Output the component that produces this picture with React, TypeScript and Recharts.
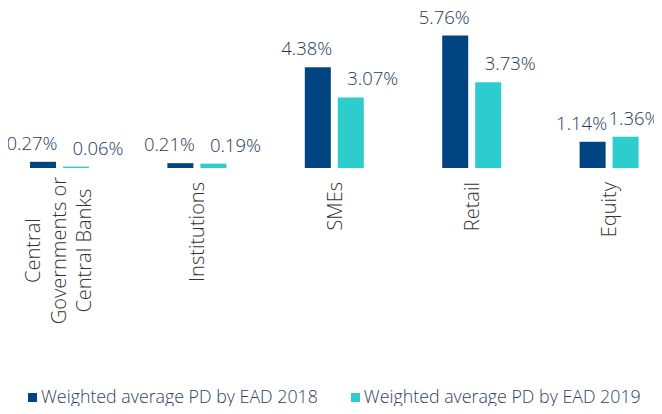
import React from 'react';
import { BarChart, Bar, XAxis, YAxis, Legend, LabelList } from 'recharts';

const categories = ['Central\nGovernments or\nCentral Banks', 'Institutions', 'SMEs', 'Retail', 'Equity'];
const pd2018 = [0.27, 0.21, 4.38, 5.76, 1.14];
const pd2019 = [0.06, 0.19, 3.07, 3.73, 1.36];
const seriesNames = ['Weighted average PD by EAD 2018', 'Weighted average PD by EAD 2019'];

const data = categories.map((name, i) => ({ name, y2018: pd2018[i], y2019: pd2019[i] }));

const NAVY = '#004481';
const CYAN = '#2dcccd';
const FONT = '"Open Sans", Roboto, sans-serif';
const CHART_W = 687;
const SHIFT = -9;

const fmt = (v: number) => `${v.toFixed(2)}%`;

const AxisTick = (props: any) => {
  const { x, y, payload } = props;
  const lines = String(payload.value).split('\n');
  const top = y + 6;
  const style = { fill: '#333333', fontSize: 20, fontFamily: FONT, fontWeight: 300 };
  if (lines.length === 1) {
    return (
      <text x={x} y={top} dy="0.35em" textAnchor="end" transform={`rotate(-90, ${x}, ${top})`} {...style}>
        {lines[0]}
      </text>
    );
  }
  const longest = Math.max(...lines.map((l) => l.length));
  const cy = top + longest * 4.9;
  const gap = 25.5;
  return (
    <g>
      {lines.map((l, i) => {
        const lx = x - 1 + (i - (lines.length - 1) / 2) * gap;
        return (
          <text key={i} x={lx} y={cy} dy="0.35em" textAnchor="middle" transform={`rotate(-90, ${lx}, ${cy})`} {...style}>
            {l}
          </text>
        );
      })}
    </g>
  );
};

const makeValueLabel = (dx: number) => (props: any) => {
  const { x, y, width, value } = props;
  let cx = x + width / 2 + dx;
  // keep the label inside the visible area
  const maxCx = CHART_W + SHIFT - 35;
  if (cx > maxCx) cx = maxCx;
  return (
    <text x={cx} y={y - 12} textAnchor="middle" fill="#243a58" fontSize={18.5} fontFamily={FONT} fontWeight={300}>
      {fmt(value)}
    </text>
  );
};

const LegendContent = () => (
  <div style={{ display: 'flex', fontFamily: FONT, fontWeight: 300, fontSize: 17.8, color: '#2e4260', lineHeight: '22px' }}>
    {seriesNames.map((n, i) => (
      <div key={n} style={{ display: 'flex', alignItems: 'center', marginLeft: i === 0 ? 0 : 33 }}>
        <span style={{ width: 9, height: 9, background: i === 0 ? NAVY : CYAN, display: 'inline-block', marginRight: 4, marginTop: 2 }} />
        <span>{n}</span>
      </div>
    ))}
  </div>
);

export default function App() {
  return (
    <div style={{ margin: -8, width: 662, height: 414, overflow: 'hidden', position: 'relative', background: '#fff' }}>
      <div style={{ position: 'absolute', left: SHIFT, top: 0 }}>
        <BarChart
          width={CHART_W}
          height={414}
          data={data}
          margin={{ top: 30, right: 0, left: 0, bottom: 24 }}
          barCategoryGap={40}
          barGap={7}
        >
          <XAxis dataKey="name" axisLine={false} tickLine={false} interval={0} height={200} tick={<AxisTick />} />
          <YAxis hide domain={[0, 6]} />
          <Legend
            content={<LegendContent />}
            wrapperStyle={{ position: 'absolute', top: 385, left: 37, width: 700, bottom: 'auto' }}
          />
          <Bar dataKey="y2018" name={seriesNames[0]} fill={NAVY} barSize={26} isAnimationActive={false}>
            <LabelList dataKey="y2018" content={makeValueLabel(-11)} />
          </Bar>
          <Bar dataKey="y2019" name={seriesNames[1]} fill={CYAN} barSize={26} isAnimationActive={false}>
            <LabelList dataKey="y2019" content={makeValueLabel(22)} />
          </Bar>
        </BarChart>
      </div>
    </div>
  );
}
